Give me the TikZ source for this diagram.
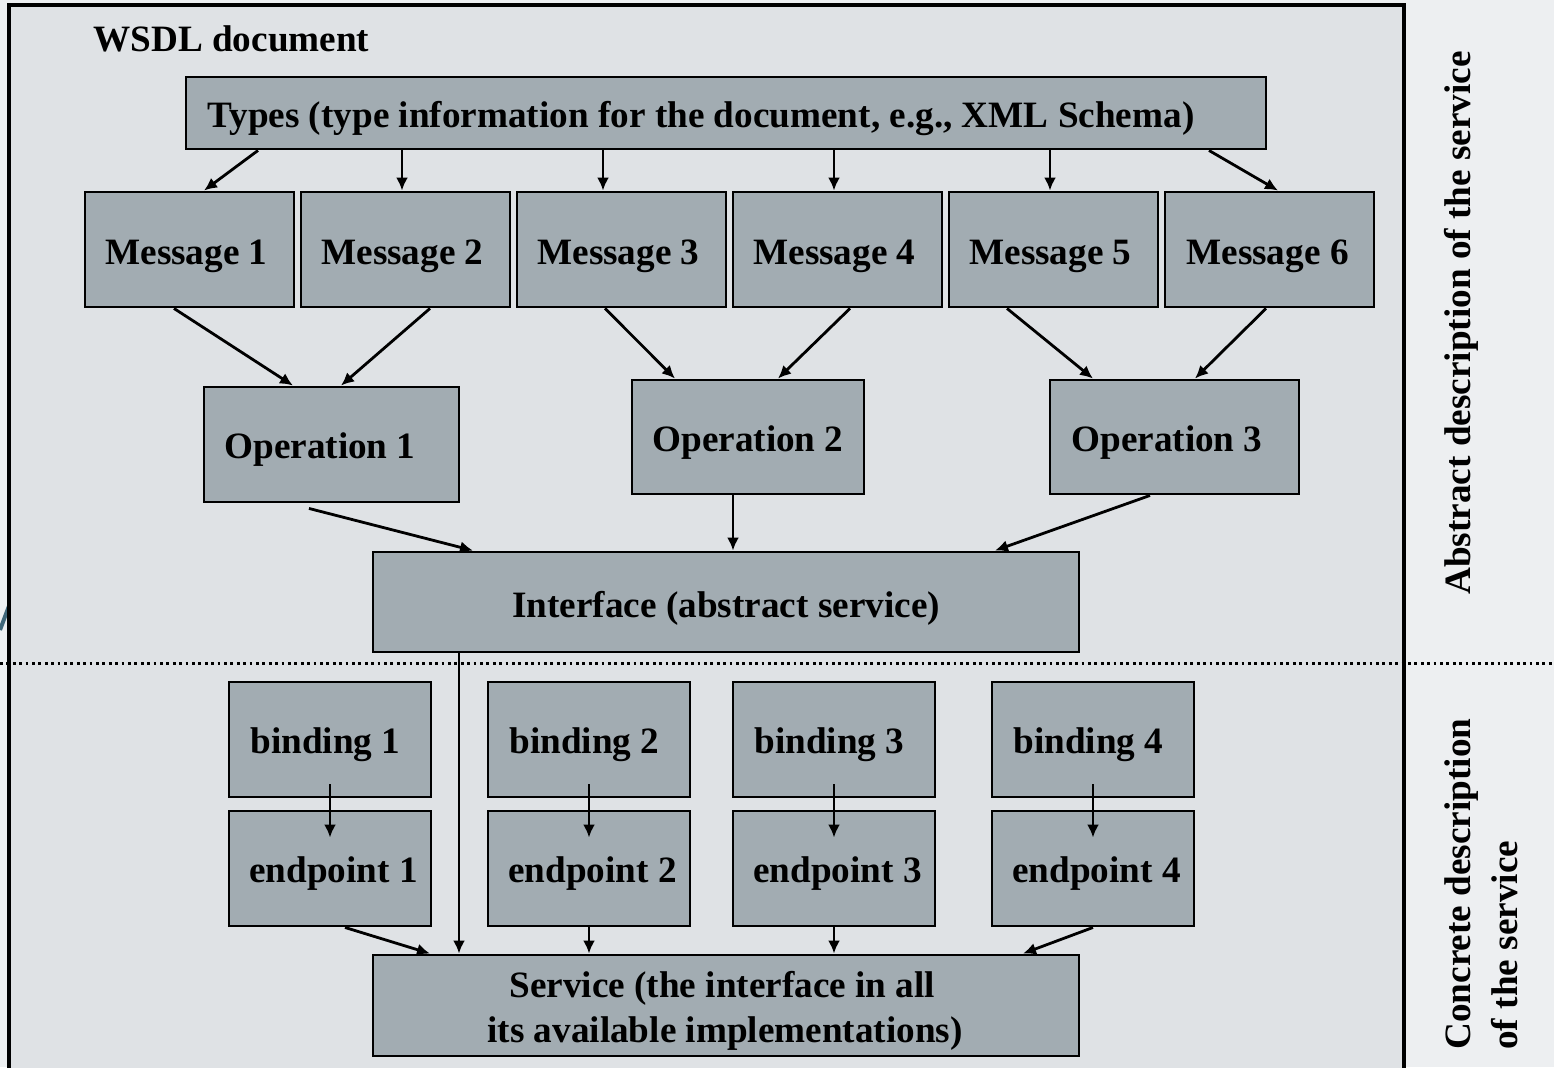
\documentclass[tikz,border=0pt]{standalone}
\usepackage{fontspec}
\setmainfont{Liberation Serif}
\usetikzlibrary{arrows.meta}

\definecolor{pagebg}{HTML}{EDEFF1}
\definecolor{docbg}{HTML}{DFE2E5}
\definecolor{boxgray}{HTML}{A2ACB2}
\definecolor{slideblue}{HTML}{3F6679}

% rectangle node given by its corners (x1,y1) and (x2,y2), in pixel units
\newcommand\rectnode[5]{%
  \node[box, minimum width={(#4-#2)*0.5pt}, minimum height={(#5-#3)*0.5pt}]
    (#1) at ({(#2+#4)/2},{(#3+#5)/2}) {};}

\begin{document}
\begin{tikzpicture}[x=0.5pt,y=-0.5pt,
  box/.style={draw=black, line width=1.45pt, fill=boxgray, inner sep=0pt},
  lbl/.style={font=\fontsize{18.6}{23.5}\selectfont\bfseries, inner sep=0pt, anchor=base west},
  conn/.style={line width=1.4pt, -{Latex[length=6.5pt,width=6pt]}},
]
\useasboundingbox (0,0) rectangle (1554,1067);
\clip (0,0) rectangle (1554,1067);
\fill[pagebg] (0,0) rectangle (1554,1067);

% slide ornament at the left edge
\draw[slideblue, line width=2pt] (0,630) -- (9,606);

% WSDL document frame (open at the bottom)
\draw[fill=docbg, line width=1.7pt] (9,1080) -- (9,5) -- (1404,5) -- (1404,1080);
\node[lbl] (doc) at (93,51) {WSDL document};

% abstract part
\rectnode{types}{186}{77}{1266}{149}
\node[lbl] (types-t) at (207,127) {Types (type information for the document, e.g., XML Schema)};

\rectnode{m1}{85}{192}{294}{307}
\rectnode{m2}{301}{192}{510}{307}
\rectnode{m3}{517}{192}{726}{307}
\rectnode{m4}{733}{192}{942}{307}
\rectnode{m5}{949}{192}{1158}{307}
\rectnode{m6}{1165}{192}{1374}{307}
\node[lbl] (m1-t) at (105,264) {Message 1};
\node[lbl] (m2-t) at (321,264) {Message 2};
\node[lbl] (m3-t) at (537,264) {Message 3};
\node[lbl] (m4-t) at (753,264) {Message 4};
\node[lbl] (m5-t) at (969,264) {Message 5};
\node[lbl] (m6-t) at (1186,264) {Message 6};

\rectnode{op1}{204}{387}{459}{502}
\rectnode{op2}{632}{380}{864}{494}
\rectnode{op3}{1050}{380}{1299}{494}
\node[lbl] (op1-t) at (224,458) {Operation 1};
\node[lbl] (op2-t) at (652,451) {Operation 2};
\node[lbl] (op3-t) at (1071,451) {Operation 3};

\rectnode{iface}{373}{552}{1079}{652}
\node[lbl] (iface-t) at (512,617) {Interface (abstract service)};

% concrete part
\rectnode{b1}{229}{682}{431}{797}
\rectnode{b2}{488}{682}{690}{797}
\rectnode{b3}{733}{682}{935}{797}
\rectnode{b4}{992}{682}{1194}{797}
\node[lbl] (b1-t) at (250,753) {binding 1};
\node[lbl] (b2-t) at (509,753) {binding 2};
\node[lbl] (b3-t) at (754,753) {binding 3};
\node[lbl] (b4-t) at (1013,753) {binding 4};

\rectnode{e1}{229}{811}{431}{926}
\rectnode{e2}{488}{811}{690}{926}
\rectnode{e3}{733}{811}{935}{926}
\rectnode{e4}{992}{811}{1194}{926}
\node[lbl] (e1-t) at (249,882) {endpoint 1};
\node[lbl] (e2-t) at (508,882) {endpoint 2};
\node[lbl] (e3-t) at (753,882) {endpoint 3};
\node[lbl] (e4-t) at (1012,882) {endpoint 4};

\rectnode{svc}{373}{955}{1079}{1056}
\node[lbl] (svc-t1) at (509,997) {Service (the interface in all};
\node[lbl] (svc-t2) at (487,1042) {its available implementations)};

% types -> messages
\draw[conn] (types.south -| 258,0) -- (m1.north -| 204,0);
\draw[conn] (types.south -| 402,0) -- (m2.north -| 402,0);
\draw[conn] (types.south -| 603,0) -- (m3.north -| 603,0);
\draw[conn] (types.south -| 834,0) -- (m4.north -| 834,0);
\draw[conn] (types.south -| 1050,0) -- (m5.north -| 1050,0);
\draw[conn] (types.south -| 1209,0) -- (m6.north -| 1278,0);

% messages -> operations
\draw[conn] (m1.south -| 174,0) -- (op1.north -| 293,0);
\draw[conn] (m2.south -| 430,0) -- (op1.north -| 341,0);
\draw[conn] (m3.south -| 605,0) -- (op2.north -| 675,0);
\draw[conn] (m4.south -| 850,0) -- (op2.north -| 778,0);
\draw[conn] (m5.south -| 1007,0) -- (op3.north -| 1093,0);
\draw[conn] (m6.south -| 1266,0) -- (op3.north -| 1195,0);

% operations -> interface
\draw[conn] ([yshift=-2.5pt]op1.south -| 309,0) -- (iface.north -| 473,0);
\draw[conn] (op2.south -| 733,0) -- (iface.north -| 733,0);
\draw[conn] (op3.south -| 1150,0) -- (iface.north -| 995,0);

% bindings -> endpoints
\draw[conn] ([yshift=7pt]b1.south -| 330,0) -- ([yshift=-14pt]e1.north -| 330,0);
\draw[conn] ([yshift=7pt]b2.south -| 589,0) -- ([yshift=-14pt]e2.north -| 589,0);
\draw[conn] ([yshift=7pt]b3.south -| 834,0) -- ([yshift=-14pt]e3.north -| 834,0);
\draw[conn] ([yshift=7pt]b4.south -| 1093,0) -- ([yshift=-14pt]e4.north -| 1093,0);

% interface and endpoints -> service
\draw[conn] (iface.south -| 459,0) -- (svc.north -| 459,0);
\draw[conn] (e1.south -| 345,0) -- (svc.north -| 430,0);
\draw[conn] (e2.south -| 589,0) -- (svc.north -| 589,0);
\draw[conn] (e3.south -| 834,0) -- (svc.north -| 834,0);
\draw[conn] (e4.south -| 1093,0) -- (svc.north -| 1023,0);

% separator between abstract and concrete description
\coordinate (sepL) at (0,663);
\coordinate (sepR) at (1554,663);
\draw[line width=1.5pt, dash pattern=on 1.4pt off 1.8pt] (sepL) -- (sepR);

% side labels
\node[lbl, rotate=90, anchor=base] (abstract) at (1470,323) {Abstract description of the service};
\node[lbl, rotate=90] (concrete1) at (1470,1050) {Concrete description};
\node[lbl, rotate=90] (concrete2) at (1517,1050) {of the service};
\end{tikzpicture}
\end{document}
